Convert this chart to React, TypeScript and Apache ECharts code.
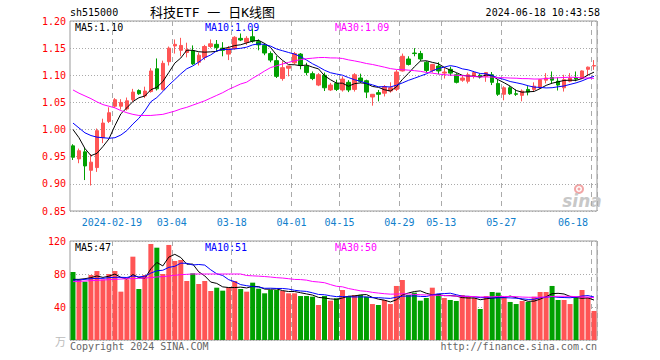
import React, { useEffect, useRef } from 'react';
import * as echarts from 'echarts';

const dates = [
  '2024-01-31', '2024-02-01', '2024-02-02', '2024-02-05', '2024-02-06', '2024-02-07', '2024-02-08', '2024-02-19', '2024-02-20', '2024-02-21',
  '2024-02-22', '2024-02-23', '2024-02-26', '2024-02-27', '2024-02-28', '2024-02-29', '2024-03-01', '2024-03-04', '2024-03-05', '2024-03-06',
  '2024-03-07', '2024-03-08', '2024-03-11', '2024-03-12', '2024-03-13', '2024-03-14', '2024-03-15', '2024-03-18', '2024-03-19', '2024-03-20',
  '2024-03-21', '2024-03-22', '2024-03-25', '2024-03-26', '2024-03-27', '2024-03-28', '2024-03-29', '2024-04-01', '2024-04-02', '2024-04-03',
  '2024-04-08', '2024-04-09', '2024-04-10', '2024-04-11', '2024-04-12', '2024-04-15', '2024-04-16', '2024-04-17', '2024-04-18', '2024-04-19',
  '2024-04-22', '2024-04-23', '2024-04-24', '2024-04-25', '2024-04-26', '2024-04-29', '2024-04-30', '2024-05-06', '2024-05-07', '2024-05-08',
  '2024-05-09', '2024-05-10', '2024-05-13', '2024-05-14', '2024-05-15', '2024-05-16', '2024-05-17', '2024-05-20', '2024-05-21', '2024-05-22',
  '2024-05-23', '2024-05-24', '2024-05-27', '2024-05-28', '2024-05-29', '2024-05-30', '2024-05-31', '2024-06-03', '2024-06-04', '2024-06-05',
  '2024-06-06', '2024-06-07', '2024-06-11', '2024-06-12', '2024-06-13', '2024-06-14', '2024-06-17', '2024-06-18',
];

const opens = [
  0.970, 0.946, 0.959, 0.925, 0.930, 0.985, 1.015, 1.043, 1.043, 1.038,
  1.055, 1.072, 1.062, 1.070, 1.112, 1.074, 1.125, 1.154, 1.146, 1.142,
  1.145, 1.124, 1.133, 1.153, 1.157, 1.150, 1.139, 1.149, 1.168, 1.161,
  1.171, 1.162, 1.155, 1.140, 1.127, 1.094, 1.113, 1.123, 1.139, 1.117,
  1.103, 1.082, 1.100, 1.073, 1.085, 1.073, 1.087, 1.074, 1.095, 1.090,
  1.060, 1.068, 1.067, 1.071, 1.074, 1.108, 1.130, 1.141, 1.140, 1.124,
  1.109, 1.117, 1.104, 1.111, 1.101, 1.091, 1.089, 1.098, 1.100, 1.098,
  1.101, 1.085, 1.065, 1.077, 1.066, 1.063, 1.074, 1.074, 1.077, 1.091,
  1.096, 1.089, 1.077, 1.089, 1.096, 1.094, 1.111, 1.117,
];
const highs = [
  0.973, 0.965, 0.966, 0.955, 1.002, 1.020, 1.041, 1.058, 1.056, 1.059,
  1.075, 1.074, 1.079, 1.113, 1.131, 1.127, 1.153, 1.166, 1.169, 1.160,
  1.155, 1.142, 1.156, 1.166, 1.165, 1.161, 1.154, 1.172, 1.177, 1.172,
  1.186, 1.166, 1.159, 1.144, 1.136, 1.126, 1.117, 1.143, 1.141, 1.123,
  1.107, 1.104, 1.105, 1.086, 1.092, 1.098, 1.091, 1.104, 1.103, 1.092,
  1.065, 1.073, 1.082, 1.087, 1.110, 1.140, 1.135, 1.150, 1.145, 1.126,
  1.121, 1.124, 1.115, 1.116, 1.104, 1.099, 1.105, 1.108, 1.103, 1.106,
  1.106, 1.092, 1.080, 1.080, 1.074, 1.074, 1.080, 1.087, 1.093, 1.104,
  1.107, 1.096, 1.101, 1.104, 1.107, 1.109, 1.116, 1.128,
];
const lows = [
  0.944, 0.938, 0.907, 0.897, 0.922, 0.975, 1.012, 1.040, 1.037, 1.035,
  1.051, 1.064, 1.058, 1.068, 1.072, 1.072, 1.118, 1.140, 1.135, 1.133,
  1.119, 1.118, 1.128, 1.150, 1.144, 1.135, 1.128, 1.147, 1.163, 1.156,
  1.160, 1.146, 1.137, 1.124, 1.095, 1.090, 1.098, 1.120, 1.111, 1.100,
  1.091, 1.080, 1.071, 1.071, 1.071, 1.070, 1.069, 1.070, 1.086, 1.058,
  1.044, 1.052, 1.061, 1.068, 1.071, 1.107, 1.118, 1.135, 1.126, 1.105,
  1.105, 1.102, 1.094, 1.099, 1.085, 1.088, 1.085, 1.094, 1.094, 1.088,
  1.082, 1.062, 1.054, 1.064, 1.062, 1.052, 1.063, 1.071, 1.075, 1.085,
  1.085, 1.072, 1.070, 1.087, 1.089, 1.093, 1.099, 1.110,
];
const closes = [
  0.949, 0.961, 0.933, 0.940, 0.998, 1.012, 1.031, 1.055, 1.050, 1.053,
  1.069, 1.066, 1.071, 1.108, 1.075, 1.122, 1.150, 1.157, 1.155, 1.147,
  1.121, 1.137, 1.153, 1.158, 1.151, 1.146, 1.149, 1.170, 1.165, 1.168,
  1.163, 1.156, 1.141, 1.128, 1.098, 1.114, 1.117, 1.140, 1.119, 1.105,
  1.094, 1.101, 1.077, 1.082, 1.074, 1.093, 1.073, 1.101, 1.089, 1.069,
  1.065, 1.065, 1.079, 1.077, 1.106, 1.135, 1.120, 1.140, 1.130, 1.109,
  1.120, 1.108, 1.106, 1.104, 1.087, 1.095, 1.101, 1.105, 1.097, 1.105,
  1.087, 1.065, 1.077, 1.066, 1.065, 1.071, 1.069, 1.080, 1.092, 1.095,
  1.091, 1.082, 1.092, 1.095, 1.093, 1.108, 1.115, 1.118,
];
// volume, in 万手
const volumes = [
  82.4, 72.7, 70.7, 78.8, 83.6, 73.5, 80.0, 83.6, 58.6, 73.5,
  101.0, 61.8, 78.8, 116.4, 111.9, 80.0, 115.2, 95.8, 97.0, 71.5,
  80.8, 67.9, 71.5, 59.4, 63.4, 59.8, 63.8, 71.5, 61.8, 58.6,
  69.5, 62.2, 56.6, 60.6, 60.6, 59.4, 56.6, 56.6, 53.3, 53.3,
  52.5, 42.4, 53.3, 47.7, 50.5, 60.6, 53.3, 54.5, 54.5, 52.5,
  43.6, 42.4, 48.5, 43.6, 65.5, 72.7, 54.5, 57.4, 47.7, 50.9,
  63.4, 55.8, 50.9, 48.5, 47.3, 54.5, 53.3, 51.3, 37.6, 53.3,
  58.2, 57.4, 51.3, 46.1, 43.6, 47.3, 46.1, 52.5, 58.2, 58.2,
  65.5, 48.5, 48.5, 43.6, 51.3, 60.6, 51.3, 35.2,
];

// moving-average values for the days before enough history exists
const ma5Head = [1.000, 0.985, 0.965, 0.952];
const ma10Head = [1.012, 1.003, 0.994, 0.989, 0.986, 0.985, 0.984, 0.985, 0.990];
const ma30Head = [
  1.073, 1.067, 1.062, 1.057, 1.051, 1.046, 1.043, 1.040, 1.035, 1.031,
  1.028, 1.026, 1.026, 1.026, 1.027, 1.028, 1.031, 1.034, 1.038, 1.041,
  1.045, 1.049, 1.053, 1.058, 1.063, 1.068, 1.074, 1.079, 1.084,
];
const vma5Head = [73.5, 73.5, 74.3, 75.6];
const vma10Head = [72.7, 72.7, 73.5, 74.3, 74.7, 74.7, 75.6, 76.0, 76.0];
const vma30Head = [
  70.7, 71.0, 71.5, 71.9, 72.3, 72.7, 73.1, 73.5, 73.9, 74.3,
  74.3, 74.7, 75.2, 75.6, 76.4, 76.8, 77.6, 78.4, 79.2, 79.6,
  80.0, 80.0, 80.0, 80.0, 80.0, 80.0, 80.0, 80.0, 80.0,
];

const labelIdx = [7, 17, 27, 37, 45, 55, 62, 72, 87];
const yPriceTicks = { min: 0.85, max: 1.2, interval: 0.05 };
const yVolTicks = { min: 0, max: 120, interval: 40 };

const UP = '#ff5555';
const DOWN = '#00a000';
const MONO = '"DejaVu Sans Mono", monospace';

function movingAvg(src: number[], n: number, head: number[], digits: number) {
  return src.map((_, i) => {
    if (i < n - 1) return head[i];
    let s = 0;
    for (let k = i - n + 1; k <= i; k++) s += src[k];
    return +(s / n).toFixed(digits);
  });
}

export default function App() {
  const ref = useRef<HTMLDivElement>(null);
  useEffect(() => {
    if (!ref.current) return;
    const chart = echarts.init(ref.current, null, { renderer: 'svg' });
    const ma5 = movingAvg(closes, 5, ma5Head, 4);
    const ma10 = movingAvg(closes, 10, ma10Head, 4);
    const ma30 = movingAvg(closes, 30, ma30Head, 4);
    const vma5 = movingAvg(volumes, 5, vma5Head, 2);
    const vma10 = movingAvg(volumes, 10, vma10Head, 2);
    const vma30 = movingAvg(volumes, 30, vma30Head, 2);
    const isUp = (i: number) => closes[i] >= opens[i];

    const vSplit = {
      show: true,
      interval: (i: number) => labelIdx.includes(i),
      lineStyle: { color: '#aaa', type: [5, 4], width: 1 },
    };
    const hSplit = { show: true, lineStyle: { color: '#aaa', type: [1, 2], width: 1 } };
    const lineSeries = (name: string, data: number[], color: string, axis: number) => ({
      name,
      type: 'line',
      xAxisIndex: axis,
      yAxisIndex: axis,
      data,
      symbol: 'none',
      silent: true,
      lineStyle: { color, width: 1 },
      z: 5,
    });
    const txt = (text: string, x: number, y: number, fill: string, align = 'left', extra: any = {}) => ({
      type: 'text',
      x,
      y,
      silent: true,
      style: {
        text,
        fill,
        fontSize: 10,
        fontFamily: MONO,
        textAlign: align,
        textVerticalAlign: 'middle',
        ...extra,
      },
    });

    chart.setOption({
      animation: false,
      backgroundColor: '#fff',
      grid: [
        { left: 70, right: 63, top: 21, height: 190, show: true, borderColor: '#999', borderWidth: 1 },
        { left: 70, right: 63, top: 241, height: 99, show: true, borderColor: '#999', borderWidth: 1 },
      ],
      xAxis: [
        {
          type: 'category',
          gridIndex: 0,
          data: dates,
          boundaryGap: true,
          axisLine: { show: false },
          axisTick: { show: false },
          axisLabel: {
            show: true,
            interval: (i: number) => labelIdx.includes(i),
            formatter: (v: string) => (v === '2024-02-19' ? v : v.slice(5)),
            color: '#1180cc',
            fontSize: 10,
            fontFamily: MONO,
            margin: 6,
            padding: [0, 6, 0, 0],
            alignMaxLabel: 'right',
          },
          splitLine: vSplit,
        },
        {
          type: 'category',
          gridIndex: 1,
          data: dates,
          boundaryGap: true,
          axisLine: { show: false },
          axisTick: { show: false },
          axisLabel: { show: false },
          splitLine: vSplit,
        },
      ],
      yAxis: [
        {
          type: 'value',
          gridIndex: 0,
          ...yPriceTicks,
          axisLine: { show: false },
          axisTick: { show: false },
          axisLabel: {
            color: '#ff0000',
            fontSize: 10,
            fontFamily: MONO,
            margin: 4,
            formatter: (v: number) => v.toFixed(2),
          },
          splitLine: hSplit,
        },
        {
          type: 'value',
          gridIndex: 1,
          ...yVolTicks,
          axisLine: { show: false },
          axisTick: { show: false },
          axisLabel: {
            color: '#ff0000',
            fontSize: 10,
            fontFamily: MONO,
            margin: 4,
            formatter: (v: number) => (v === 0 ? '' : String(v)),
          },
          splitLine: hSplit,
        },
      ],
      series: [
        {
          type: 'candlestick',
          xAxisIndex: 0,
          yAxisIndex: 0,
          barWidth: 4,
          silent: true,
          data: dates.map((_, i) => [opens[i], closes[i], lows[i], highs[i]]),
          itemStyle: {
            color: UP,
            color0: DOWN,
            borderColor: UP,
            borderColor0: DOWN,
            borderColorDoji: UP,
            borderWidth: 1,
          },
        },
        lineSeries('MA5', ma5, '#000000', 0),
        lineSeries('MA10', ma10, '#0000ff', 0),
        lineSeries('MA30', ma30, '#ff00ff', 0),
        {
          type: 'bar',
          xAxisIndex: 1,
          yAxisIndex: 1,
          barWidth: 5,
          silent: true,
          data: volumes.map((v, i) => ({ value: v, itemStyle: { color: isUp(i) ? UP : DOWN } })),
        },
        lineSeries('VMA5', vma5, '#000000', 1),
        lineSeries('VMA10', vma10, '#0000ff', 1),
        lineSeries('VMA30', vma30, '#ff00ff', 1),
      ],
      graphic: [
        txt('sh515000', 70, 12, '#000'),
        txt('科技ETF 一 日K线图', 150, 12, '#000', 'left', {
          fontSize: 13,
          fontFamily: '"DejaVu Sans Mono", "Noto Sans CJK SC", sans-serif',
        }),
        txt('2024-06-18 10:43:58', 600, 12, '#000', 'right'),
        txt('MA5:1.10', 75, 27, '#000'),
        txt('MA10:1.09', 205, 27, '#0000ff'),
        txt('MA30:1.09', 335, 27, '#ff00ff'),
        txt('MA5:47', 75, 247, '#000'),
        txt('MA10:51', 205, 247, '#0000ff'),
        txt('MA30:50', 335, 247, '#ff00ff'),
        txt('Copyright 2024 SINA.COM', 70, 346, '#666'),
        txt('http://finance.sina.com.cn', 597, 346, '#666', 'right'),
        txt('万', 66, 341, '#bbb', 'right', { fontSize: 11, fontFamily: '"Noto Sans CJK SC", sans-serif' }),
        {
          type: 'ring',
          silent: true,
          shape: { cx: 579, cy: 189, r: 5, r0: 3 },
          style: { fill: '#f2a6a6' },
        },
        {
          type: 'circle',
          silent: true,
          shape: { cx: 579, cy: 189, r: 1.5 },
          style: { fill: '#f2a6a6' },
        },
        txt('sina', 582, 201, '#c8c8c8', 'center', {
          fontSize: 17,
          fontStyle: 'italic',
          fontWeight: 'bold',
          fontFamily: '"DejaVu Sans", sans-serif',
        }),
      ],
    });
    return () => chart.dispose();
  }, []);
  return (
    <div
      ref={ref}
      style={{ position: 'absolute', left: 0, top: 0, width: 660, height: 360, background: '#fff' }}
    />
  );
}
